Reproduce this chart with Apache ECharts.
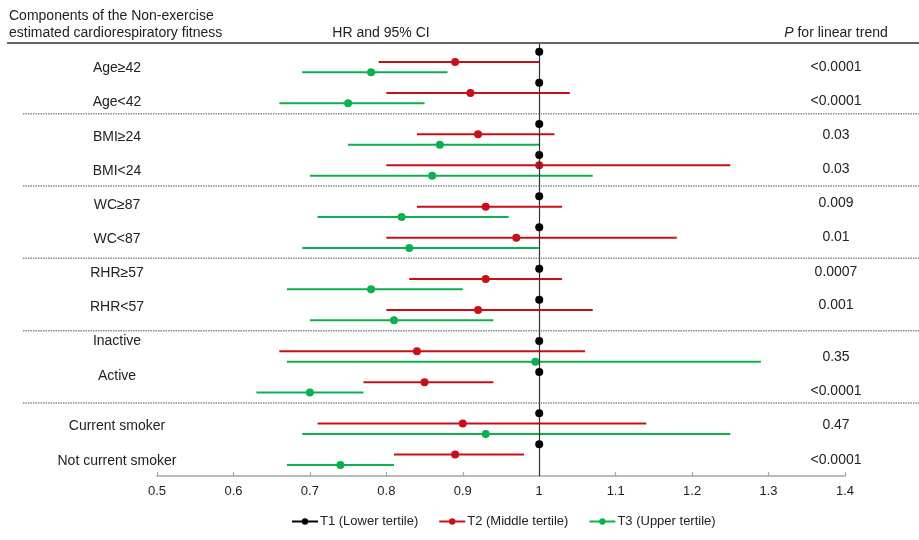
<!DOCTYPE html>
<html>
<head>
<meta charset="utf-8">
<script src="https://cdn.jsdelivr.net/npm/echarts@6/dist/echarts.min.js"></script>
<style>
html,body{margin:0;padding:0;background:#fff;}
#chart{width:919px;height:540px;}
</style>
</head>
<body>
<div id="chart"></div>
<script>
// ---- data ----
const groups = ['Age≥42','Age<42','BMI≥24','BMI<24','WC≥87','WC<87','RHR≥57','RHR<57','Inactive','Active','Current smoker','Not current smoker'];
const t1HR  = [1,1,1,1,1,1,1,1,1,1,1,1];
const t2HR  = [0.89,0.91,0.92,1.00,0.93,0.97,0.93,0.92,0.84,0.85,0.90,0.89];
const t2Low = [0.79,0.80,0.84,0.80,0.84,0.80,0.83,0.80,0.66,0.77,0.71,0.81];
const t2High= [1.00,1.04,1.02,1.25,1.03,1.18,1.03,1.07,1.06,0.94,1.14,0.98];
const t3HR  = [0.78,0.75,0.87,0.86,0.82,0.83,0.78,0.81,0.995,0.70,0.93,0.74];
const t3Low = [0.69,0.66,0.75,0.70,0.71,0.69,0.67,0.70,0.67,0.63,0.69,0.67];
const t3High= [0.88,0.85,1.00,1.07,0.96,1.00,0.90,0.94,1.29,0.77,1.25,0.81];
const pTrend = ['<0.0001','<0.0001','0.03','0.03','0.009','0.01','0.0007','0.001','0.35','<0.0001','0.47','<0.0001'];
const seriesNames = ['T1 (Lower tertile)','T2 (Middle tertile)','T3 (Upper tertile)'];
const xTickValues = [0.5,0.6,0.7,0.8,0.9,1.0,1.1,1.2,1.3,1.4];

// ---- layout (slot units relative to each row's first sub-row) ----
const labelOffset = [1.55,1.9,1.23,1.59,0.81,1.1,0.45,0.75,0.05,0.44,1.27,1.66];
const pOffset     = [1.45,1.74,1.03,1.33,0.69,0.98,0.3,0.58,1.6,1.89,1.1,1.5];

function rowSlot(i){ return Math.floor(i/2)*7 + (i%2)*3; }
const GAP = ['-','-'];

function ciData(hr, lo, hi, tier){
  const d = [];
  groups.forEach((g,i)=>{
    const s = rowSlot(i)+tier;
    d.push({value:[lo[i], s], symbol:'none'});
    d.push({value:[hr[i], s]});
    d.push({value:[hi[i], s], symbol:'none'});
    d.push(GAP);
  });
  return d;
}
function pointData(hr, tier){
  const d = [];
  groups.forEach((g,i)=>{ d.push([hr[i], rowSlot(i)+tier]); d.push(GAP); });
  return d;
}

const colors = ['#000000','#c8101a','#0db04e'];
const chart = echarts.init(document.getElementById('chart'));
const nSlots = rowSlot(groups.length-1)+3;

chart.setOption({
  animation:false,
  textStyle:{fontFamily:'Liberation Sans, Arial, sans-serif'},
  grid:{left:157, right:74, top:43, bottom:64},
  xAxis:{
    type:'value', position:'bottom', min:xTickValues[0], max:xTickValues[xTickValues.length-1], interval:0.1,
    axisLine:{onZero:false, lineStyle:{color:'#a6a6a6', width:1.5}},
    axisTick:{show:true, inside:true, length:4, lineStyle:{color:'#a6a6a6', width:1.2}},
    axisLabel:{color:'#222', fontSize:13, margin:9,
      formatter:v=>{ const r=Math.round(v*10)/10; return r===1?'1':String(r);} },
    splitLine:{show:false}
  },
  yAxis:{type:'value', inverse:true, min:-0.84, max:nSlots+0.07, show:false, splitLine:{show:false}},
  legend:{
    left:286, top:510, itemWidth:26, itemHeight:8, itemGap:20,
    textStyle:{color:'#222', fontSize:13, fontFamily:'Liberation Sans, Arial, sans-serif', padding:[0,0,0,-3]},
    data:[seriesNames[0], seriesNames[1], seriesNames[2]]
  },
  series:[
    {name:'ref', type:'line', data:[], silent:true,
     markLine:{silent:true, symbol:'none', label:{show:false},
       lineStyle:{color:'#333', width:1.2, type:'solid'}, data:[{xAxis:t1HR[0]}]}},
    {name:seriesNames[2], type:'line', data:ciData(t3HR,t3Low,t3High,2), connectNulls:false,
     symbol:'circle', symbolSize:8, showAllSymbol:true,
     lineStyle:{color:colors[2], width:2}, itemStyle:{color:colors[2]}, z:3},
    {name:seriesNames[1], type:'line', data:ciData(t2HR,t2Low,t2High,1), connectNulls:false,
     symbol:'circle', symbolSize:8, showAllSymbol:true,
     lineStyle:{color:colors[1], width:2}, itemStyle:{color:colors[1]}, z:4},
    {name:seriesNames[0], type:'line', data:pointData(t1HR,0), connectNulls:false,
     symbol:'circle', symbolSize:8, showAllSymbol:true,
     lineStyle:{color:colors[0], width:2}, itemStyle:{color:colors[0]}, z:5}
  ]
});

// ---- decorations aligned to the axes ----
const yPix = s => chart.convertToPixel({yAxisIndex:0}, s);
const graphics = [];
const font = '14px "Liberation Sans", Arial, sans-serif';
const topY = yPix(-0.84);
graphics.push({type:'line', shape:{x1:7, y1:topY, x2:919, y2:topY}, style:{stroke:'#666', lineWidth:2}, z:10});
graphics.push({type:'text', x:9, y:16, style:{text:'Components of the Non-exercise', font:font, fill:'#222', textVerticalAlign:'middle'}});
graphics.push({type:'text', x:9, y:33, style:{text:'estimated cardiorespiratory fitness', font:font, fill:'#222', textVerticalAlign:'middle'}});
graphics.push({type:'text', x:381, y:33, style:{text:'HR and 95% CI', font:font, fill:'#222', textAlign:'center', textVerticalAlign:'middle'}});
graphics.push({type:'text', x:836, y:33, style:{
  text:'{i|P} for linear trend', fill:'#222', textAlign:'center', textVerticalAlign:'middle', font:font,
  rich:{i:{fontStyle:'italic', fontSize:14, fontFamily:'Liberation Sans, Arial, sans-serif'}}}});
for(let k=1;k<groups.length/2;k++){
  const y = yPix(k*7-1);
  graphics.push({type:'line', shape:{x1:23, y1:y, x2:919, y2:y},
    style:{stroke:'#8a8a8a', lineWidth:1.5, lineDash:[1.5,1]}, z:10});
}
groups.forEach((g,i)=>{
  graphics.push({type:'text', x:117, y:yPix(rowSlot(i)+labelOffset[i]),
    style:{text:g, font:font, fill:'#222', textAlign:'center', textVerticalAlign:'middle'}});
  graphics.push({type:'text', x:836, y:yPix(rowSlot(i)+pOffset[i]),
    style:{text:pTrend[i], font:font, fill:'#222', textAlign:'center', textVerticalAlign:'middle'}});
});
chart.setOption({graphic:graphics});
</script>
</body>
</html>
